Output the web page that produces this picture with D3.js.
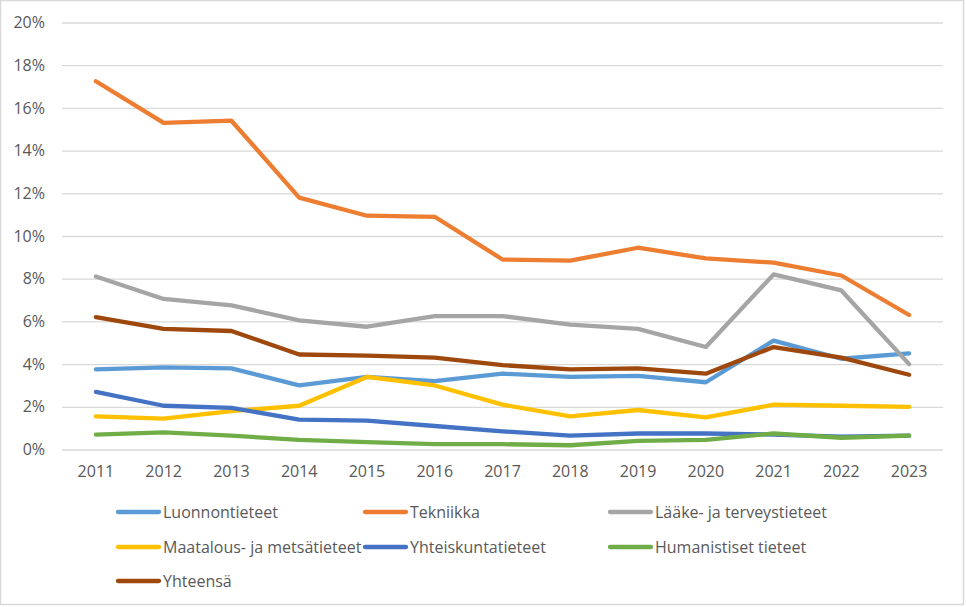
<!DOCTYPE html>
<html>
<head>
<meta charset="utf-8">
<script src="https://cdn.jsdelivr.net/npm/d3@7"></script>
<style>
  body { margin: 0; background: #fff; }
  text { font-family: "Open Sans", "Liberation Sans", Arial, sans-serif; fill: #595959; }
</style>
</head>
<body>
<div id="graph"></div>
<script>
// Data
let years = [2011, 2012, 2013, 2014, 2015, 2016, 2017, 2018, 2019, 2020, 2021, 2022, 2023];
let yTicks = [0, 2, 4, 6, 8, 10, 12, 14, 16, 18, 20];
let luonnontieteet = [3.75, 3.85, 3.8, 3.0, 3.4, 3.2, 3.55, 3.4, 3.45, 3.15, 5.1, 4.25, 4.5];
let tekniikka = [17.25, 15.3, 15.4, 11.8, 10.95, 10.9, 8.9, 8.85, 9.45, 8.95, 8.75, 8.15, 6.3];
let laake = [8.1, 7.05, 6.75, 6.05, 5.75, 6.25, 6.25, 5.85, 5.65, 4.8, 8.2, 7.45, 4.0];
let maatalous = [1.55, 1.45, 1.8, 2.05, 3.4, 3.0, 2.1, 1.55, 1.85, 1.5, 2.1, 2.05, 2.0];
let yhteiskunta = [2.7, 2.05, 1.95, 1.4, 1.35, 1.1, 0.85, 0.65, 0.75, 0.75, 0.7, 0.6, 0.65];
let humanistiset = [0.7, 0.8, 0.65, 0.45, 0.35, 0.25, 0.25, 0.2, 0.4, 0.45, 0.75, 0.55, 0.65];
let yhteensa = [6.2, 5.65, 5.55, 4.45, 4.4, 4.3, 3.95, 3.75, 3.8, 3.55, 4.8, 4.3, 3.5];

let series = [
  {name: "Luonnontieteet", values: luonnontieteet, color: "#5B9BD5"},
  {name: "Tekniikka", values: tekniikka, color: "#ED7D31"},
  {name: "Lääke- ja terveystieteet", values: laake, color: "#A5A5A5"},
  {name: "Maatalous- ja metsätieteet", values: maatalous, color: "#FFC000"},
  {name: "Yhteiskuntatieteet", values: yhteiskunta, color: "#4472C4"},
  {name: "Humanistiset tieteet", values: humanistiset, color: "#70AD47"},
  {name: "Yhteensä", values: yhteensa, color: "#9E480E"}
];

let W = 966, H = 607;
let margin = {top: 22.5, right: 23, bottom: 157.5, left: 62};
let width = W - margin.left - margin.right;
let height = H - margin.top - margin.bottom;

let root = d3.select("#graph").append("svg")
  .attr("width", W)
  .attr("height", H);

// outer border
root.append("rect")
  .attr("x", 0.5).attr("y", 0.5)
  .attr("width", W - 3).attr("height", H - 3)
  .attr("fill", "#fff")
  .attr("stroke", "#d9d9d9")
  .attr("stroke-width", 1.5);

let svg = root.append("g")
  .attr("transform", "translate(" + margin.left + "," + margin.top + ")");

let x = d3.scaleBand().domain(years).range([0, width]);
let y = d3.scaleLinear().domain([0, 20]).range([height, 0]);

// gridlines + y labels
let yAxis = d3.axisLeft(y)
  .tickValues(yTicks)
  .tickSize(-width)
  .tickPadding(17)
  .tickFormat(d => d + "%");
let gy = svg.append("g").call(yAxis);
gy.select(".domain").remove();
gy.selectAll("line").attr("stroke", "#d9d9d9").attr("stroke-width", 1.3);
gy.selectAll("text").attr("font-size", 16).style("fill", "#595959")
  .style("font-family", "'Open Sans', 'Liberation Sans', Arial, sans-serif");

// x labels
let xAxis = d3.axisBottom(x).tickSize(0).tickPadding(16);
let gx = svg.append("g")
  .attr("transform", "translate(0," + height + ")")
  .call(xAxis);
gx.select(".domain").remove();
gx.selectAll("text").attr("font-size", 16).style("fill", "#595959")
  .style("font-family", "'Open Sans', 'Liberation Sans', Arial, sans-serif");

// lines
let line = d3.line()
  .x((d, i) => x(years[i]) + x.bandwidth() / 2)
  .y(d => y(d));
series.forEach(s => {
  svg.append("path")
    .attr("d", line(s.values))
    .attr("fill", "none")
    .attr("stroke", s.color)
    .attr("stroke-width", 4.3)
    .attr("stroke-linejoin", "round")
    .attr("stroke-linecap", "round");
});

// legend
let legCols = [118, 365, 610];
let legRows = [512, 547, 581];
series.forEach((s, i) => {
  let lx = legCols[i % 3], ly = legRows[Math.floor(i / 3)];
  root.append("line")
    .attr("x1", lx).attr("x2", lx + 41)
    .attr("y1", ly).attr("y2", ly)
    .attr("stroke", s.color)
    .attr("stroke-width", 4.3)
    .attr("stroke-linecap", "round");
  root.append("text")
    .attr("x", lx + 45)
    .attr("y", ly + 6)
    .attr("font-size", 16)
    .text(s.name);
});
</script>
</body>
</html>
